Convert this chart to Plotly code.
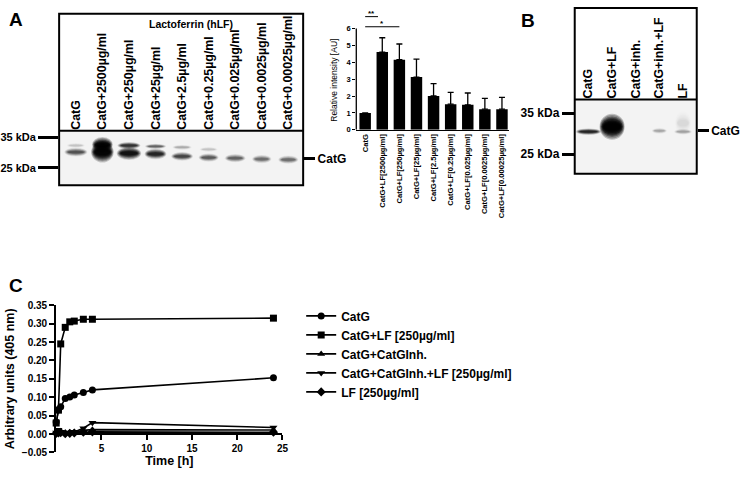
import plotly.graph_objects as go

W, H = 748, 477
FONT = "Liberation Sans, Arial, sans-serif"

def fx(px):
    return px / W

def fy(py):
    return 1 - py / H

# ---------------- DATA ----------------
# Panel A bar chart (densitometry)
bar_categories = ["CatG", "CatG+LF[2500µg/ml]", "CatG+LF[250µg/ml]", "CatG+LF[25µg/ml]",
                  "CatG+LF[2.5µg/ml]", "CatG+LF[0.25µg/ml]", "CatG+LF[0.025µg/ml]",
                  "CatG+LF[0.0025µg/ml]", "CatG+LF[0.00025µg/ml]"]
bar_values = [1.0, 4.6, 4.15, 3.12, 2.0, 1.52, 1.48, 1.22, 1.22]
bar_errors = [0.0, 0.85, 0.93, 1.06, 0.73, 0.70, 0.70, 0.64, 0.70]
sig_pairs = [(0, 0.75, 6.7, "**"), (0, 2, 6.1, "*")]

# Panel A blot
blotA_lanes = ["CatG", "CatG+2500µg/ml", "CatG+250µg/ml", "CatG+25µg/ml", "CatG+2.5µg/ml",
               "CatG+0.25µg/ml", "CatG+0.025µg/ml", "CatG+0.0025µg/ml", "CatG+0.00025µg/ml"]
# bands: (lane, kDa position, half-thickness kDa, half-width lane units, intensity)
blotA_bands = [
    (0, 32.4, 0.6, 0.30, 0.12), (0, 30.2, 1.0, 0.38, 0.6),
    (1, 32.6, 1.8, 0.34, 1.6), (1, 30.2, 2.4, 0.37, 1.8),
    (2, 32.4, 0.8, 0.38, 0.85), (2, 29.8, 1.5, 0.40, 1.3),
    (3, 32.1, 0.6, 0.35, 0.5), (3, 29.6, 1.2, 0.36, 1.0),
    (4, 31.8, 0.6, 0.32, 0.2), (4, 28.8, 1.0, 0.36, 0.7),
    (5, 31.1, 0.6, 0.30, 0.12), (5, 28.4, 0.95, 0.33, 0.55),
    (6, 28.2, 0.95, 0.34, 0.5),
    (7, 27.9, 0.95, 0.32, 0.45),
    (8, 27.7, 0.95, 0.33, 0.45),
]
blotA_markers = [35, 25]
blotA_catg = 28.0

# Panel B blot
blotB_lanes = ["CatG", "CatG+LF", "CatG+inh.", "CatG+inh.+LF", "LF"]
blotB_bands = [
    (0, 30.5, 0.55, 0.46, 1.0),
    (1, 31.7, 2.2, 0.46, 2.2),
    (3, 30.7, 0.5, 0.28, 0.22),
    (4, 32.6, 2.0, 0.3, 0.06), (4, 30.5, 0.5, 0.33, 0.22),
]
blotB_markers = [35, 25]
blotB_catg = 30.8

# Panel C kinetics
time_h = [0, 0.25, 0.5, 1, 1.5, 2, 3, 4, 24]
catg = [0.033, 0.066, 0.074, 0.097, 0.101, 0.106, 0.113, 0.120, 0.153]
catg_lf = [0.030, 0.065, 0.245, 0.290, 0.305, 0.307, 0.312, 0.312, 0.315]
catg_inh = [0.003, 0.005, 0.008, 0.003, 0.004, 0.005, 0.010, 0.012, 0.011]
catg_inh_lf = [0.004, 0.012, 0.006, 0.002, 0.004, 0.006, 0.016, 0.031, 0.018]
lf_only = [0.002, 0.003, 0.004, 0.001, 0.002, 0.003, 0.005, 0.006, 0.005]
series_names = ["CatG", "CatG+LF [250µg/ml]", "CatG+CatGInh.", "CatG+CatGInh.+LF [250µg/ml]", "LF [250µg/ml]"]
series_symbols = ["circle", "square", "triangle-up", "triangle-down", "diamond"]

# ---------------- FIGURE ----------------
fig = go.Figure()

# Panel C lines
for name, ys, sym in zip(series_names, [catg, catg_lf, catg_inh, catg_inh_lf, lf_only], series_symbols):
    fig.add_trace(go.Scatter(x=time_h, y=ys, name=name, mode="lines+markers",
                             line=dict(color="black", width=1.6),
                             marker=dict(symbol=sym, size=7, color="black"),
                             cliponaxis=False, xaxis="x", yaxis="y"))

# Bar chart
fig.add_trace(go.Bar(x=list(range(len(bar_categories))), y=bar_values, width=0.67,
                     marker=dict(color="black", line=dict(width=0)),
                     error_y=dict(type="data", array=bar_errors, arrayminus=[0] * len(bar_errors),
                                  symmetric=False, color="black", thickness=1.3, width=3),
                     showlegend=False, xaxis="x2", yaxis="y2"))

# invisible traces to instantiate blot axes
fig.add_trace(go.Scatter(x=list(range(len(blotA_lanes))), y=[blotA_catg] * len(blotA_lanes),
                         mode="markers", marker=dict(opacity=0), showlegend=False,
                         hoverinfo="skip", xaxis="x3", yaxis="y3"))
fig.add_trace(go.Scatter(x=[0], y=[blotA_catg], mode="markers", marker=dict(opacity=0),
                         showlegend=False, hoverinfo="skip", xaxis="x3", yaxis="y5"))
fig.add_trace(go.Scatter(x=list(range(len(blotB_lanes))), y=[blotB_catg] * len(blotB_lanes),
                         mode="markers", marker=dict(opacity=0), showlegend=False,
                         hoverinfo="skip", xaxis="x4", yaxis="y4"))
fig.add_trace(go.Scatter(x=[0], y=[blotB_catg], mode="markers", marker=dict(opacity=0),
                         showlegend=False, hoverinfo="skip", xaxis="x4", yaxis="y6"))

shapes = []
annotations = []

# blot backgrounds and bands (soft edges from stacked translucent ellipses)
LAYERS = [(1.45, 0.10), (1.3, 0.12), (1.15, 0.15), (1.0, 0.18), (0.85, 0.22), (0.7, 0.26), (0.55, 0.3), (0.4, 0.32)]

def add_blot(xr, yr, bands):
    shapes.append(dict(type="rect", xref=xr + " domain", yref=yr + " domain", x0=0, x1=1, y0=0, y1=1,
                       fillcolor="#f3f3f3", line=dict(width=0), layer="below"))
    for lane, pos, hh, hw, a in bands:
        for scale, alpha in LAYERS:
            op = min(a * alpha, 0.95)
            shapes.append(dict(type="circle", xref=xr, yref=yr,
                               x0=lane - hw * (0.65 + 0.35 * scale), x1=lane + hw * (0.65 + 0.35 * scale),
                               y0=pos - hh * scale, y1=pos + hh * scale,
                               fillcolor="rgba(0,0,0,%.3f)" % op, line=dict(width=0)))

add_blot("x3", "y3", blotA_bands)
add_blot("x4", "y4", blotB_bands)

# frames
def frame(x0, x1, ytop, ydiv, ybot):
    shapes.append(dict(type="rect", xref="paper", yref="paper", x0=fx(x0), x1=fx(x1),
                       y0=fy(ybot), y1=fy(ytop), line=dict(color="black", width=2)))
    shapes.append(dict(type="line", xref="paper", yref="paper", x0=fx(x0), x1=fx(x1),
                       y0=fy(ydiv), y1=fy(ydiv), line=dict(color="black", width=2)))

frame(54, 302, 8, 128, 184)
frame(578, 702, 2, 96, 172)

# bar chart y axis line (0..6) and significance lines
shapes.append(dict(type="line", xref="x2 domain", yref="y2", x0=0, x1=0, y0=0, y1=6,
                   line=dict(color="black", width=1.3)))
for a, b, lvl, txt in sig_pairs:
    shapes.append(dict(type="line", xref="x2", yref="y2", x0=a, x1=b,
                       y0=lvl, y1=lvl, line=dict(color="black", width=1)))
    annotations.append(dict(text=txt, xref="x2", yref="y2", x=(a + b) / 2,
                            y=lvl, yanchor="bottom", showarrow=False, yshift=-3,
                            font=dict(family=FONT, size=8, color="black", weight="bold")))

# texts
annotations += [
    dict(text="A", x=fx(1), y=fy(1), xref="paper", yref="paper", xanchor="left", yanchor="top",
         showarrow=False, font=dict(family=FONT, size=19, color="black", weight="bold")),
    dict(text="B", x=fx(521), y=fy(2), xref="paper", yref="paper", xanchor="left", yanchor="top",
         showarrow=False, font=dict(family=FONT, size=19, color="black", weight="bold")),
    dict(text="C", x=fx(1), y=fy(274), xref="paper", yref="paper", xanchor="left", yanchor="top",
         showarrow=False, font=dict(family=FONT, size=19, color="black", weight="bold")),
    dict(text="Lactoferrin (hLF)", x=fx(188), y=fy(18), xref="paper", yref="paper",
         xanchor="center", yanchor="middle", showarrow=False,
         font=dict(family=FONT, size=10.5, color="black", weight="bold")),
    dict(text="Relative intensity [AU]", x=fx(333), y=fy(76), xref="paper", yref="paper",
         xanchor="center", yanchor="middle", textangle=-90, showarrow=False,
         font=dict(family=FONT, size=8.5, color="black")),
]

tickfont_C = dict(family=FONT, size=10, color="black", weight="bold")

fig.update_layout(
    width=W, height=H, margin=dict(l=0, r=0, t=0, b=0),
    paper_bgcolor="white", plot_bgcolor="white",
    font=dict(family=FONT, color="black"),
    showlegend=True,
    legend=dict(x=fx(300), y=fy(303), xanchor="left", yanchor="top", tracegroupgap=0,
                font=dict(family=FONT, size=12, color="black", weight="bold"),
                bgcolor="rgba(0,0,0,0)", itemwidth=30),
    xaxis=dict(domain=[fx(51), fx(281)], range=[0, 25], anchor="free",
               position=fy(458) + (0 - (-0.05)) / 0.40 * (fy(307) - fy(458)),
               showline=True, linecolor="black", linewidth=2, ticks="outside", ticklen=5,
               tickwidth=2, tickcolor="black", tickvals=[5, 10, 15, 20, 25],
               showgrid=False, zeroline=False, tickfont=tickfont_C,
               title=dict(text="Time [h]", font=dict(family=FONT, size=12.5, color="black", weight="bold"),
                          standoff=2)),
    yaxis=dict(domain=[fy(458), fy(307)], range=[-0.05, 0.35], anchor="x",
               showline=True, linecolor="black", linewidth=2, ticks="outside", ticklen=5,
               tickwidth=2, tickcolor="black", dtick=0.05, tick0=0, tickformat=".2f",
               showgrid=False, zeroline=False, tickfont=tickfont_C,
               title=dict(text="Arbitrary units (405 nm)",
                          font=dict(family=FONT, size=12.5, color="black", weight="bold"), standoff=4)),
    xaxis2=dict(domain=[fx(356), fx(511)], range=[-0.52, 8.4], anchor="y2",
                showline=True, linecolor="black", linewidth=1.3, ticks="",
                tickvals=list(range(len(bar_categories))), ticktext=bar_categories,
                tickangle=-90, showgrid=False, zeroline=False,
                tickfont=dict(family=FONT, size=7.6, color="black", weight="bold")),
    yaxis2=dict(domain=[fy(127), fy(0.5)], range=[0, 7.3], anchor="x2",
                showline=False, ticks="outside", ticklen=3, tickwidth=1, tickcolor="black",
                tickvals=[0, 1, 2, 3, 4, 5, 6], showgrid=False, zeroline=False,
                tickfont=dict(family=FONT, size=7.5, color="black", weight="bold")),
    xaxis3=dict(domain=[fx(54), fx(302)], range=[-0.63, 8.56], anchor="y3", side="top",
                showline=False, ticks="", tickvals=list(range(len(blotA_lanes))), ticktext=blotA_lanes,
                tickangle=-90, showgrid=False, zeroline=False,
                tickfont=dict(family=FONT, size=12.4, color="black", weight="bold")),
    yaxis3=dict(domain=[fy(184), fy(128)], range=[35 - (184 - 135) * 0.3226, 35 + (135 - 128) * 0.3226],
                anchor="x3", showline=False, ticks="outside", ticklen=20, tickwidth=2.5, tickcolor="black",
                tickvals=blotA_markers, ticktext=["%d kDa" % m for m in blotA_markers],
                showgrid=False, zeroline=False,
                tickfont=dict(family=FONT, size=11, color="black", weight="bold")),
    yaxis5=dict(overlaying="y3", side="right", anchor="x3",
                range=[35 - (184 - 135) * 0.3226, 35 + (135 - 128) * 0.3226],
                ticks="outside", ticklen=11, tickwidth=2.5, tickcolor="black",
                tickvals=[blotA_catg], ticktext=["CatG"], showgrid=False, zeroline=False, showline=False,
                tickfont=dict(family=FONT, size=12, color="black", weight="bold")),
    xaxis4=dict(domain=[fx(578), fx(702)], range=[-0.58, 4.58], anchor="y4", side="top",
                showline=False, ticks="", tickvals=list(range(len(blotB_lanes))), ticktext=blotB_lanes,
                tickangle=-90, showgrid=False, zeroline=False,
                tickfont=dict(family=FONT, size=12.4, color="black", weight="bold")),
    yaxis4=dict(domain=[fy(172), fy(96)], range=[35 - (172 - 110) * 0.238, 35 + (110 - 96) * 0.238],
                anchor="x4", showline=False, ticks="outside", ticklen=12, tickwidth=2.5, tickcolor="black",
                tickvals=blotB_markers, ticktext=["%d kDa" % m for m in blotB_markers],
                showgrid=False, zeroline=False,
                tickfont=dict(family=FONT, size=12, color="black", weight="bold")),
    yaxis6=dict(overlaying="y4", side="right", anchor="x4",
                range=[35 - (172 - 110) * 0.238, 35 + (110 - 96) * 0.238],
                ticks="outside", ticklen=11, tickwidth=2.5, tickcolor="black",
                tickvals=[blotB_catg], ticktext=["CatG"], showgrid=False, zeroline=False, showline=False,
                tickfont=dict(family=FONT, size=12, color="black", weight="bold")),
    shapes=shapes,
    annotations=annotations,
)

fig.write_html("out.html", config={"displayModeBar": False},
               post_script="document.body.style.margin='0px';")
